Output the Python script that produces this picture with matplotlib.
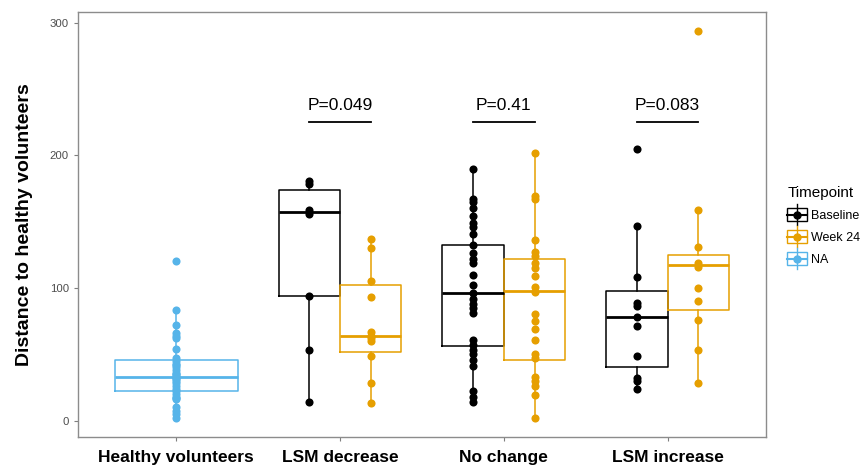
import matplotlib
matplotlib.use("Agg")
import matplotlib.pyplot as plt
from matplotlib.legend_handler import HandlerBase
from matplotlib.lines import Line2D
from matplotlib.patches import Rectangle

plt.rcParams['font.family'] = ['Liberation Sans', 'DejaVu Sans']

# categories and groups
groups = ["Healthy volunteers", "LSM decrease", "No change", "LSM increase"]
timepoints = ["Baseline", "Week 24", "NA"]
colors = {"Baseline": "#000000", "Week 24": "#E69F00", "NA": "#56B4E9"}

# individual points
healthy = [120, 83, 72, 66, 64, 62, 54, 47, 45, 43, 42, 40, 38, 36, 35, 34,
           33, 32, 31, 30, 28, 26, 24, 22, 20, 18, 17, 16, 10, 7, 5, 2]
decrease_base = [181, 178, 159, 156, 94, 53, 14]
decrease_wk24 = [137, 130, 105, 93, 67, 64, 62, 60, 49, 28, 13]
nochange_base = [190, 167, 165, 160, 154, 149, 146, 141, 132, 126, 122, 119,
                 110, 102, 96, 92, 88, 85, 81, 61, 57, 53, 50, 46, 41, 22, 18, 14]
nochange_wk24 = [202, 169, 167, 136, 127, 124, 119, 115, 109, 101, 97, 80, 75,
                 69, 61, 50, 47, 33, 30, 26, 19, 2]
increase_base = [205, 147, 108, 89, 86, 78, 71, 49, 32, 30, 24]
increase_wk24 = [294, 159, 131, 119, 116, 100, 90, 76, 53, 28]

# box summaries (q1, median, q3, lower whisker, upper whisker)
box_q1 = [22, 94, 52, 56, 46, 40, 83]
box_med = [33, 157, 64, 96, 98, 78, 117]
box_q3 = [46, 174, 102, 132, 122, 98, 125]
box_lo = [2, 14, 13, 14, 2, 24, 28]
box_hi = [83, 181, 137, 190, 202, 147, 159]

# p-values for Baseline vs Week 24
pvalues = ["P=0.049", "P=0.41", "P=0.083"]

series = [
    (1, "NA", healthy, 0.75),
    (2, "Baseline", decrease_base, 0.375),
    (2, "Week 24", decrease_wk24, 0.375),
    (3, "Baseline", nochange_base, 0.375),
    (3, "Week 24", nochange_wk24, 0.375),
    (4, "Baseline", increase_base, 0.375),
    (4, "Week 24", increase_wk24, 0.375),
]
offsets = {"NA": 0.0, "Baseline": -0.1875, "Week 24": 0.1875}

fig = plt.figure(figsize=(8.66, 4.66), dpi=100)
ax = fig.add_axes([0.090, 0.062, 0.7945, 0.912])

for i, (g, tp, pts, w) in enumerate(series):
    x = g + offsets[tp]
    c = colors[tp]
    stats = [dict(med=box_med[i], q1=box_q1[i], q3=box_q3[i],
                  whislo=box_lo[i], whishi=box_hi[i], fliers=[])]
    ax.bxp(stats, positions=[x], widths=[w], showfliers=False, showcaps=False,
           boxprops=dict(color=c, linewidth=1.1),
           whiskerprops=dict(color=c, linewidth=1.1),
           medianprops=dict(color=c, linewidth=2.0),
           manage_ticks=False)
    ax.scatter([x] * len(pts), pts, s=34, color=c, zorder=3, linewidths=0)

# significance brackets
for g, p in zip([2, 3, 4], pvalues):
    ax.plot([g - 0.1875, g + 0.1875], [225, 225], color="black", lw=1.3)
    ax.text(g, 232, p, ha="center", va="bottom", fontsize=12.5)

ax.set_xlim(0.4, 4.6)
ax.set_ylim(-12.5, 308)
ax.set_xticks([1, 2, 3, 4])
ax.set_xticklabels(groups, fontsize=12.5, fontweight="bold")
ax.set_yticks([0, 100, 200, 300])
ax.tick_params(axis="y", labelsize=8.2, labelcolor="#4d4d4d", color="#7f7f7f", length=3)
ax.tick_params(axis="x", color="#7f7f7f", length=3, pad=6)
ax.set_ylabel("Distance to healthy volunteers", fontsize=14, fontweight="bold", labelpad=12)
for s in ax.spines.values():
    s.set_color("#8c8c8c")
    s.set_linewidth(1.0)


class BoxHandler(HandlerBase):
    def create_artists(self, legend, orig_handle, xdescent, ydescent,
                       width, height, fontsize, trans):
        c = orig_handle.get_color()
        cx = width / 2 - xdescent
        cy = height / 2 - ydescent
        bw, bh = 14, 9
        box = Rectangle((cx - bw / 2, cy - bh / 2), bw, bh, fill=False,
                        edgecolor=c, lw=1.0, transform=trans)
        whisk = Line2D([cx, cx], [cy - bh / 2 - 3, cy + bh / 2 + 3], color=c,
                       lw=1.0, transform=trans)
        med = Line2D([cx - bw / 2, cx + bw / 2], [cy, cy], color=c, lw=1.5,
                     transform=trans)
        dot = Line2D([cx], [cy], marker="o", markersize=5, color=c,
                     linestyle="none", transform=trans)
        return [box, whisk, med, dot]


handles = [Line2D([], [], color=colors[t]) for t in timepoints]
leg = fig.legend(handles, timepoints, title="Timepoint", loc="upper left",
                 bbox_to_anchor=(0.897, 0.625), frameon=False, fontsize=9,
                 title_fontsize=11, handler_map={Line2D: BoxHandler()},
                 handlelength=1.4, handletextpad=0.4, labelspacing=0.8)
leg._legend_box.align = "left"

fig.savefig("out.png", dpi=100)
